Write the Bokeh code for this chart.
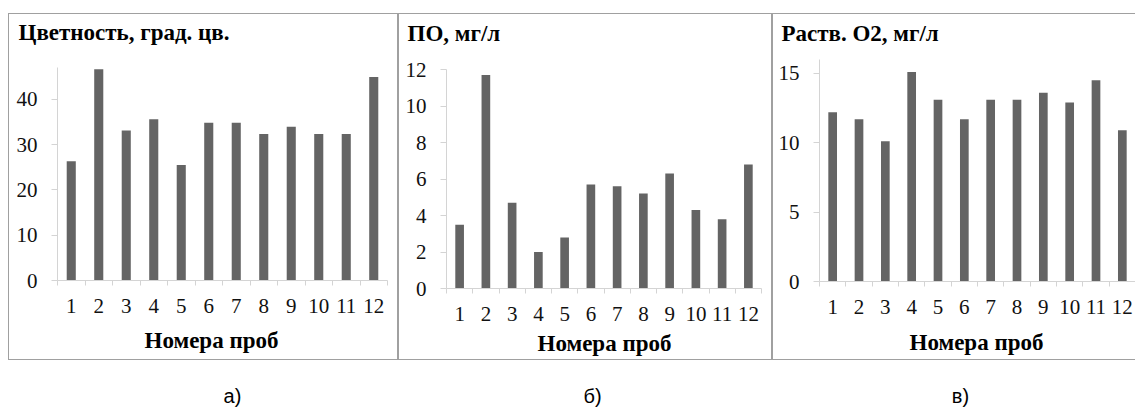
from bokeh.plotting import figure
from bokeh.models import Range1d, FixedTicker, Label, Spacer
from bokeh.layouts import row, column
from bokeh.embed import file_html
from bokeh.resources import INLINE

# ---------------- data ----------------
samples = ["1", "2", "3", "4", "5", "6", "7", "8", "9", "10", "11", "12"]
color_vals = [26.3, 46.6, 33.1, 35.6, 25.5, 34.8, 34.8, 32.3, 33.9, 32.3, 32.3, 44.9]
po_vals = [3.5, 11.7, 4.7, 2.0, 2.8, 5.7, 5.6, 5.2, 6.3, 4.3, 3.8, 6.8]
o2_vals = [12.2, 11.7, 10.1, 15.1, 13.1, 11.7, 13.1, 13.1, 13.6, 12.9, 14.5, 10.9]
titles = ["Цветность, град. цв.", "ПО, мг/л", "Раств. O2, мг/л"]
x_title = "Номера проб"
captions = ["а)", "б)", "в)"]
yticks_color = [0, 10, 20, 30, 40]
yticks_po = [0, 2, 4, 6, 8, 10, 12]
yticks_o2 = [0, 5, 10, 15]
ymax_color = 47
ymax_po = 12
ymax_o2 = 16

BAR = "#646464"
AXIS = "#d4d4d4"
BORDER = "#a0a0a0"
SERIF = "Liberation Serif"
H = 345

n = len(samples)
xs = list(range(1, n + 1))
bounds = [i + 0.5 for i in range(0, n + 1)]


def make_panel(vals, title, yticks, ymax, w, L, PW, Z, PH, tpos, apos):
    """w: canvas width; L: left of plot area; PW: plot width;
    Z: zero line from top; PH: plot height (px)."""
    ux = PW / n
    uy = PH / ymax
    xr = Range1d(0.5 - L / ux, 0.5 + (w - L) / ux)
    yr = Range1d(-(H - Z) / uy, Z / uy)
    p = figure(width=w, height=H, x_range=xr, y_range=yr, output_backend="svg",
               toolbar_location=None, title=None,
               min_border_left=0, min_border_right=0,
               min_border_top=0, min_border_bottom=0)
    p.vbar(x=xs, top=vals, width=0.33, fill_color=BAR, line_color=None)
    p.grid.visible = False
    p.outline_line_color = None
    p.background_fill_color = "white"
    p.border_fill_color = "white"

    xa = p.xaxis[0]
    xa.fixed_location = 0
    xa.bounds = (0.5, n + 0.5)
    xa.ticker = FixedTicker(ticks=xs, minor_ticks=bounds)
    xa.major_label_overrides = {x: s for x, s in zip(xs, samples)}
    xa.major_tick_line_color = None
    xa.major_tick_out = 0
    xa.major_tick_in = 0
    xa.minor_tick_out = 5
    xa.minor_tick_in = 0
    xa.minor_tick_line_color = AXIS
    xa.axis_line_color = AXIS
    xa.major_label_standoff = 13
    xa.major_label_text_font = SERIF
    xa.major_label_text_font_size = "21px"
    xa.major_label_text_color = "#111111"

    ya = p.yaxis[0]
    ya.fixed_location = 0.5
    ya.bounds = (0, ymax)
    ya.ticker = FixedTicker(ticks=yticks)
    ya.minor_tick_line_color = None
    ya.major_tick_out = 6
    ya.major_tick_in = 0
    ya.major_tick_line_color = AXIS
    ya.axis_line_color = AXIS
    ya.major_label_standoff = 14
    ya.major_label_text_font = SERIF
    ya.major_label_text_font_size = "21px"
    ya.major_label_text_color = "#111111"

    p.add_layout(Label(x=tpos[0], y=tpos[1], x_units="screen", y_units="screen",
                       text=title, text_font=SERIF, text_font_size="23px",
                       text_font_style="bold", text_baseline="middle",
                       text_align="left", text_color="#000000"))
    p.add_layout(Label(x=apos[0], y=apos[1], x_units="screen", y_units="screen",
                       text=x_title, text_font=SERIF, text_font_size="23px",
                       text_font_style="bold", text_baseline="middle",
                       text_align="center", text_color="#000000"))
    return p


p1 = make_panel(color_vals, titles[0], yticks_color, ymax_color,
                388, 48, 330, 266, 213, (9, 327), (202, 19))
p2 = make_panel(po_vals, titles[1], yticks_po, ymax_po,
                372, 47, 315, 274, 219, (8, 326), (205, 16))
p3 = make_panel(o2_vals, titles[2], yticks_o2, ymax_o2,
                362, 46, 316, 267, 222, (8, 326), (203, 17))

cap = figure(width=1135, height=47, x_range=Range1d(0, 1135), y_range=Range1d(0, 47),
             output_backend="svg", toolbar_location=None, title=None,
             x_axis_location=None, y_axis_location=None,
             min_border_left=0, min_border_right=0, min_border_top=0, min_border_bottom=0)
cap.grid.visible = False
cap.outline_line_color = None
for cx, t in zip([232, 592, 960], captions):
    cap.add_layout(Label(x=cx, y=12, text=t, text_font="Liberation Sans",
                         text_font_size="20px", text_align="center",
                         text_baseline="middle", text_color="#000000"))


def gray(w, h):
    return Spacer(width=w, height=h, styles={"background-color": BORDER})


layout = column(
    Spacer(width=1135, height=13),
    row(Spacer(width=8, height=1), gray(1127, 1)),
    row(Spacer(width=8, height=H), gray(1, H), p1, gray(2, H), p2, gray(2, H), p3),
    row(Spacer(width=8, height=1), gray(1127, 1)),
    cap,
)

open("out.html", "w").write(file_html(layout, INLINE))
